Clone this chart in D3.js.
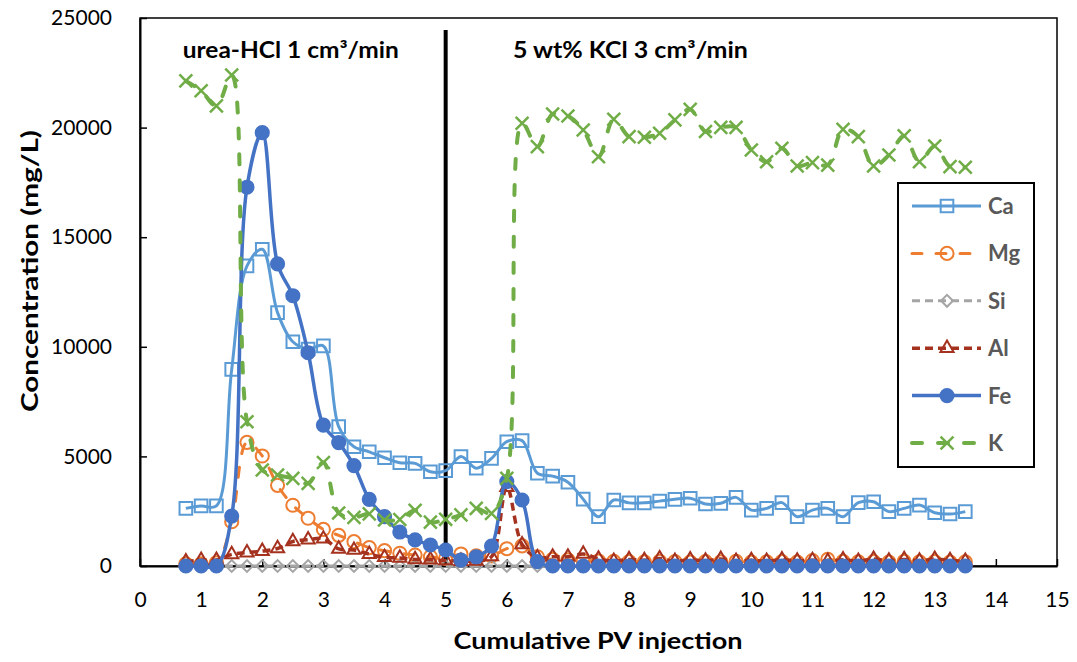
<!DOCTYPE html>
<html>
<head>
<meta charset="utf-8">
<script src="https://cdn.jsdelivr.net/npm/d3@7"></script>
<style>
  body { margin: 0; background: #fff; }
  svg { display: block; }
</style>
</head>
<body>
<svg id="chart" width="1077" height="662"></svg>
<script>
// Cumulative pore volumes injected (sampling points)
const pv = [0.75, 1, 1.25, 1.5, 1.75, 2, 2.25, 2.5, 2.75, 3, 3.25, 3.5, 3.75, 4, 4.25, 4.5, 4.75, 5,
  5.25, 5.5, 5.75, 6, 6.25, 6.5, 6.75, 7, 7.25, 7.5, 7.75, 8, 8.25, 8.5, 8.75, 9, 9.25, 9.5, 9.75, 10,
  10.25, 10.5, 10.75, 11, 11.25, 11.5, 11.75, 12, 12.25, 12.5, 12.75, 13, 13.25, 13.5];

// Effluent concentrations, mg/L
const ca = [2630, 2740, 2740, 8970, 13690, 14450, 11560, 10230, 9900, 10040,
  6360, 5440, 5210, 4940, 4710, 4680, 4300, 4350, 4990, 4460,
  4910, 5670, 5720, 4230, 4100, 3820, 3050, 2250, 3010, 2880,
  2880, 2960, 3040, 3090, 2830, 2860, 3130, 2550, 2630, 2890,
  2250, 2550, 2630, 2250, 2890, 2930, 2480, 2630, 2780, 2430,
  2370, 2480];
const mg = [100, 100, 150, 2020, 5640, 5020, 3680, 2770, 2180, 1670,
  1400, 1110, 840, 700, 580, 500, 420, 350, 550, 460,
  460, 790, 920, 420, 300, 280, 250, 230, 210, 200,
  190, 210, 200, 180, 200, 190, 210, 180, 190, 200,
  180, 250, 300, 210, 190, 200, 180, 210, 190, 200,
  180, 190];
const si = [0, 0, 0, 0, 0, 0, 0, 0, 0, 0,
  0, 0, 0, 0, 0, 0, 0, 0, 0, 0,
  0, 0, 0, 0, 0, 0, 0, 0, 0, 0,
  0, 0, 0, 0, 0, 0, 0, 0, 0, 0,
  0, 0, 0, 0, 0, 0, 0, 0, 0, 0,
  0, 0];
const al = [200, 270, 270, 530, 610, 680, 800, 1120, 1200, 1240,
  780, 730, 540, 400, 370, 300, 290, 250, 220, 230,
  430, 3600, 980, 380, 420, 420, 550, 330, 220, 300,
  260, 340, 220, 290, 240, 320, 220, 260, 220, 290,
  240, 260, 220, 290, 220, 320, 240, 300, 240, 320,
  260, 220];
const fe = [0, 0, 0, 2280, 17280, 19770, 13780, 12330, 9730, 6430,
  5630, 4580, 3040, 2250, 1550, 1190, 960, 730, 270, 420,
  910, 3850, 3010, 200, 0, 0, 0, 0, 0, 0,
  0, 0, 0, 0, 0, 0, 0, 0, 0, 0,
  0, 0, 0, 0, 0, 0, 0, 0, 0, 0,
  0, 0];
const k = [22130, 21680, 20990, 22400, 6580, 4380, 4150, 4000, 3770, 4720,
  2420, 2220, 2380, 2100, 2120, 2540, 2000, 2130, 2330, 2630,
  2400, 4000, 20200, 19130, 20620, 20530, 19890, 18670, 20380, 19590,
  19560, 19740, 20350, 20830, 19820, 20010, 20010, 18980, 18440, 19060,
  18250, 18400, 18290, 19920, 19590, 18250, 18750, 19620, 18440, 19160,
  18220, 18190];

// Injection switch from urea-HCl to KCl brine
const switchPV = [5, 5];
const switchConc = [0, 24450];

const xTicks = [0, 1, 2, 3, 4, 5, 6, 7, 8, 9, 10, 11, 12, 13, 14, 15];
const yTicks = [0, 5000, 10000, 15000, 20000, 25000];
const stageLabels = ["urea-HCl 1 cm³/min", "5 wt% KCl 3 cm³/min"];
const stageStart = [0.7, 6.1];
const stageWidth = [216, 235];

const series = [
  { name: "Ca", values: ca, color: "#5B9BD5", width: 3,   dash: null,    cap: "butt",  marker: "square" },
  { name: "Mg", values: mg, color: "#ED7D31", width: 3,   dash: "10 14", cap: "round", marker: "ring" },
  { name: "Si", values: si, color: "#A5A5A5", width: 3,   dash: "8 5",   cap: "butt",  marker: "diamond" },
  { name: "Al", values: al, color: "#A5321F", width: 3.5, dash: "8 5",   cap: "butt",  marker: "triangle" },
  { name: "Fe", values: fe, color: "#4472C4", width: 3.5, dash: null,    cap: "butt",  marker: "dot" },
  { name: "K",  values: k,  color: "#70AD47", width: 4,   dash: "10 16", cap: "round", marker: "cross" }
];

const svg = d3.select("#chart");
const plot = { left: 140, right: 1057, top: 18, bottom: 566 };

const x = d3.scaleLinear().domain([0, 15]).range([plot.left, plot.right]);
const y = d3.scaleLinear().domain([0, 25000]).range([plot.bottom, plot.top]);

const tickFont = "Lato, 'Open Sans', sans-serif";

// Plot frame
svg.append("rect")
  .attr("x", plot.left).attr("y", plot.top)
  .attr("width", plot.right - plot.left).attr("height", plot.bottom - plot.top)
  .attr("fill", "none").attr("stroke", "#000").attr("stroke-width", 1.5);

// Axes with inward ticks
const gx = svg.append("g")
  .attr("transform", `translate(0,${plot.bottom})`)
  .call(d3.axisBottom(x).tickValues(xTicks).tickFormat(d3.format("d"))
    .tickSizeInner(-7).tickSizeOuter(0).tickPadding(26));
const gy = svg.append("g")
  .attr("transform", `translate(${plot.left},0)`)
  .call(d3.axisLeft(y).tickValues(yTicks).tickFormat(d3.format("d"))
    .tickSizeInner(-7).tickSizeOuter(0).tickPadding(28));

[gx, gy].forEach(g => {
  g.select(".domain").attr("stroke", "#000").attr("stroke-width", 2);
  g.selectAll(".tick line").attr("stroke", "#000").attr("stroke-width", 1.5);
  g.selectAll(".tick text")
    .attr("fill", "#000")
    .style("font-family", tickFont)
    .style("font-size", "21px");
});

// Axis titles
svg.append("text")
  .attr("x", 598).attr("y", 649)
  .attr("text-anchor", "middle")
  .attr("textLength", 289).attr("lengthAdjust", "spacingAndGlyphs")
  .style("font-family", tickFont).style("font-weight", "bold").style("font-size", "22px")
  .text("Cumulative PV injection");

svg.append("text")
  .attr("transform", "translate(38,271) rotate(-90)")
  .attr("text-anchor", "middle")
  .attr("textLength", 282).attr("lengthAdjust", "spacingAndGlyphs")
  .style("font-family", tickFont).style("font-weight", "bold").style("font-size", "22px")
  .text("Concentration (mg/L)");

// Stage annotations
svg.selectAll("text.stage")
  .data(stageLabels)
  .join("text")
  .attr("class", "stage")
  .attr("x", (d, i) => x(stageStart[i]))
  .attr("y", 58)
  .attr("textLength", (d, i) => stageWidth[i]).attr("lengthAdjust", "spacingAndGlyphs")
  .style("font-family", tickFont).style("font-weight", "bold").style("font-size", "22px")
  .attr("fill", "#000")
  .text(d => d);

// Injection switch line
svg.append("path")
  .datum(switchPV.map((p, i) => [p, switchConc[i]]))
  .attr("d", d3.line().x(d => x(d[0])).y(d => y(d[1])))
  .attr("stroke", "#000").attr("stroke-width", 4).attr("fill", "none");

// Marker generators
function markerPath(kind) {
  switch (kind) {
    case "square":   return d3.symbol(d3.symbolSquare, 160)();
    case "ring":     return d3.symbol(d3.symbolCircle, 135)();
    case "diamond":  return d3.symbol(d3.symbolSquare, 70)();
    case "triangle": return d3.symbol(d3.symbolTriangle, 75)();
    case "dot":      return d3.symbol(d3.symbolCircle, 180)();
    case "cross":    return d3.symbol(d3.symbolX, 110)();
  }
}
function styleMarker(sel, s) {
  const filled = s.marker === "dot";
  sel.attr("d", markerPath(s.marker))
    .attr("fill", filled ? s.color : "none")
    .attr("stroke", s.color)
    .attr("stroke-width", s.marker === "dot" ? 0 : (s.marker === "cross" ? 2.5 : 2));
}
function markerTransform(s, px, py) {
  return `translate(${px},${py})` + (s.marker === "diamond" ? " rotate(45)" : "");
}

const line = d3.line()
  .x(d => x(d[0]))
  .y(d => y(d[1]))
  .curve(d3.curveCatmullRom.alpha(0.5));

series.forEach(s => {
  const pts = pv.map((p, i) => [p, s.values[i]]);
  const g = svg.append("g").attr("class", "series-" + s.name);
  g.append("path")
    .datum(pts)
    .attr("d", line)
    .attr("fill", "none")
    .attr("stroke", s.color)
    .attr("stroke-width", s.width)
    .attr("stroke-linecap", s.cap)
    .attr("stroke-linejoin", "round")
    .attr("stroke-dasharray", s.dash);
  g.selectAll("path.mk")
    .data(pts)
    .join("path")
    .attr("class", "mk")
    .attr("transform", d => markerTransform(s, x(d[0]), y(d[1])))
    .call(styleMarker, s);
});

// Legend
const legend = svg.append("g").attr("class", "legend");
legend.append("rect")
  .attr("x", 898).attr("y", 183).attr("width", 136).attr("height", 284)
  .attr("fill", "#fff").attr("stroke", "#000").attr("stroke-width", 2);
series.forEach((s, i) => {
  const ly = 206 + i * 47.4;
  const row = legend.append("g");
  row.append("line")
    .attr("x1", 912).attr("x2", 981).attr("y1", ly).attr("y2", ly)
    .attr("stroke", s.color).attr("stroke-width", s.width)
    .attr("stroke-linecap", s.cap)
    .attr("stroke-dasharray", s.dash);
  row.append("path")
    .attr("transform", markerTransform(s, 947, ly))
    .call(styleMarker, s);
  row.append("text")
    .attr("x", 988).attr("y", ly).attr("dy", "0.36em")
    .attr("fill", "#595959")
    .style("font-family", tickFont).style("font-weight", "bold").style("font-size", "22px")
    .text(s.name);
});
</script>
</body>
</html>
